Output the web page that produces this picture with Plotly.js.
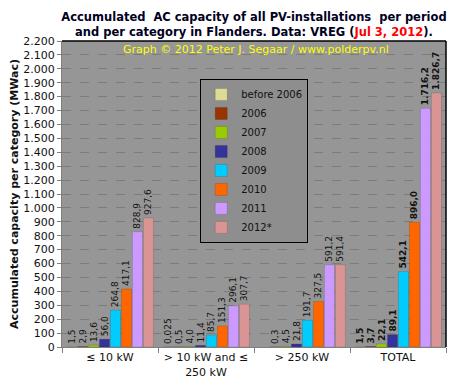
<!DOCTYPE html>
<html>
<head>
<meta charset="utf-8">
<script src="https://cdn.plot.ly/plotly-3.0.1.min.js"></script>
<style>html,body{margin:0;padding:0;background:#fff;}#chart{width:459px;height:391px;}</style>
</head>
<body>
<div id="chart"></div>
<script>
var categories = ['≤ 10 kW', '> 10 kW and ≤<br>250 kW', '> 250 kW', 'TOTAL'];
var seriesNames = ['before 2006', '2006', '2007', '2008', '2009', '2010', '2011', '2012*'];
var seriesColors = ['#dcdc96', '#993300', '#99cc00', '#333399', '#00ccff', '#ff6600', '#cc99ff', '#d99594'];
var before2006 = [1.5, 0.025, null, 1.5];
var y2006 = [2.9, 0.5, 0.3, 3.7];
var y2007 = [13.6, 4.0, 4.5, 22.1];
var y2008 = [56.0, 11.4, 21.8, 89.1];
var y2009 = [264.8, 85.7, 191.7, 542.1];
var y2010 = [417.1, 151.3, 327.5, 896.0];
var y2011 = [828.9, 296.1, 591.2, 1716.2];
var y2012 = [927.6, 307.7, 591.4, 1826.7];
var seriesValues = [before2006, y2006, y2007, y2008, y2009, y2010, y2011, y2012];
var yTickVals = [0,100,200,300,400,500,600,700,800,900,1000,1100,1200,1300,1400,1500,1600,1700,1800,1900,2000,2100,2200];

function templates(vals) {
  return vals.map(function (v, i) {
    if (v === null) return '';
    var t = v < 0.1 ? '%{y:.3f}' : '%{y:,.1f}';
    return categories[i] === 'TOTAL' ? '<b>' + t + '</b>' : t;
  });
}

var traces = seriesValues.map(function (vals, k) {
  return {
    type: 'bar',
    name: seriesNames[k],
    x: categories,
    y: vals,
    texttemplate: templates(vals),
    textposition: 'outside',
    textangle: -90,
    constraintext: 'none',
    cliponaxis: false,
    textfont: {family: 'DejaVu Sans', size: 9, color: '#111'},
    marker: {color: seriesColors[k], line: {color: 'rgba(0,0,0,0.25)', width: 0.5}},
    hoverinfo: 'skip'
  };
});

var layout = {
  width: 459, height: 391,
  margin: {l: 62, r: 13, t: 41, b: 44, pad: 0},
  paper_bgcolor: '#ffffff',
  plot_bgcolor: '#969696',
  separators: ',.',
  barmode: 'group',
  bargap: 0.085,
  bargroupgap: 0.08,
  font: {family: 'DejaVu Sans', color: '#111'},
  title: {
    text: '<b>Accumulated  AC capacity of all PV-installations  per period<br>and per category in Flanders. Data: VREG (<span style="color:#ff0000">Jul 3, 2012</span>).</b>',
    font: {family: 'DejaVu Sans', size: 11.5, color: '#000022'},
    xref: 'paper', x: 0.5, xanchor: 'center',
    yref: 'container', y: 0.947, yanchor: 'top'
  },
  xaxis: {
    type: 'category',
    tickson: 'boundaries',
    ticks: 'outside', ticklen: 5, tickcolor: '#808080',
    showline: true, linecolor: '#808080', linewidth: 1,
    tickfont: {family: 'DejaVu Sans', size: 11, color: '#111'},
    showgrid: false
  },
  yaxis: {
    range: [0, 2200],
    tickvals: yTickVals,
    tickformat: ',d',
    ticks: 'outside', ticklen: 4, tickcolor: '#808080',
    showline: true, linecolor: '#808080', linewidth: 1,
    gridcolor: '#7c7c7c', griddash: 'dash', gridwidth: 1,
    zeroline: false,
    tickfont: {family: 'DejaVu Sans', size: 11, color: '#111'},
    title: {text: '<b>Accumulated capacity per category (MWac)</b>', font: {family: 'DejaVu Sans', size: 11, color: '#111'}, standoff: 2}
  },
  legend: {
    x: 0.36, y: 0.876, xanchor: 'left', yanchor: 'top',
    bgcolor: '#8e8e8e', bordercolor: '#000', borderwidth: 1,
    font: {family: 'DejaVu Sans', size: 10, color: '#111'},
    itemwidth: 30, tracegroupgap: 0
  },
  annotations: [{
    text: 'Graph © 2012 Peter J. Segaar / www.polderpv.nl',
    xref: 'paper', yref: 'paper', x: 0.505, y: 0.972, xanchor: 'center', yanchor: 'middle',
    showarrow: false, font: {family: 'DejaVu Sans', size: 11, color: '#ffff00'}
  }],
  shapes: [
    {type: 'line', xref: 'paper', yref: 'paper', x0: 0, x1: 1, y0: 1, y1: 1, line: {color: '#000', width: 1.5}},
    {type: 'line', xref: 'paper', yref: 'paper', x0: 1, x1: 1, y0: 0, y1: 1, line: {color: '#000', width: 1.5}}
  ]
};

Plotly.newPlot('chart', traces, layout, {displayModeBar: false, staticPlot: true});
</script>
</body>
</html>
